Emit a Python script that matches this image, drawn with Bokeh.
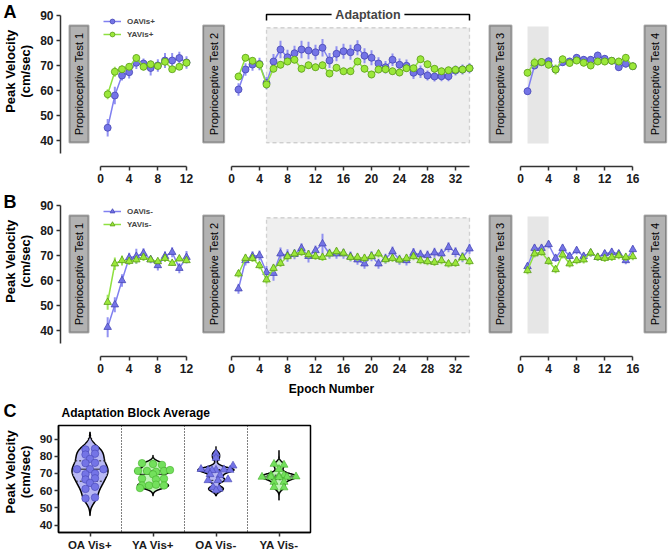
import numpy as np
from bokeh.plotting import figure
from bokeh.models import Range1d, FixedTicker, BoxAnnotation, Label, Legend, LegendItem, Span
from bokeh.layouts import column, row
from bokeh.embed import file_html
from bokeh.resources import INLINE

# ---------------- data ----------------
ep_pt1 = list(range(1, 13))
ep_adapt = list(range(1, 35))
ep_pt3 = list(range(1, 17))
adapt_block = (5, 34)
pt3_block = (1, 4)

# Panel A (Vis+)
oa_p_1 = [45.1, 58.0, 66.0, 67.3, 71.1, 70.8, 69.0, 70.0, 72.0, 72.0, 73.0, 71.2]
oa_p_1_e = [3.5, 3.5, 2.0, 2.5, 2.5, 2.0, 3.0, 2.5, 3.0, 3.0, 2.5, 2.5]
ya_p_1 = [58.5, 67.5, 68.5, 69.5, 73.0, 69.5, 70.5, 69.8, 71.5, 68.5, 69.5, 71.1]
ya_p_1_e = [2.0, 2.0, 1.5, 1.5, 1.5, 1.5, 1.0, 1.0, 1.5, 1.0, 1.0, 1.0]

oa_p_2 = [60.4, 68.4, 70.4, 70.6, 63.0, 71.6, 76.4, 73.3, 74.9, 76.4, 76.0, 75.3, 77.1, 72.0, 74.7, 75.7, 75.3,
          77.1, 73.9, 73.1, 70.8, 69.3, 72.3, 70.3, 69.9, 67.1, 67.5, 66.0, 65.6, 65.7, 65.7, 68.0, 68.4, 68.9]
oa_p_2_e = [2.5, 2.5, 2.5, 2.5, 2.5, 3.0, 3.5, 3.0, 3.0, 3.5, 3.5, 3.0, 3.5, 3.0, 3.0, 3.0, 3.0,
            3.0, 3.0, 3.0, 2.5, 2.5, 2.5, 2.5, 2.5, 2.5, 2.5, 2.0, 2.0, 2.0, 2.0, 2.0, 2.0, 2.0]
ya_p_2 = [65.6, 73.1, 71.9, 70.4, 62.4, 68.7, 70.3, 71.6, 72.3, 68.7, 70.1, 69.3, 70.1, 66.8, 69.1, 67.7, 67.7,
          71.6, 68.7, 66.4, 68.4, 68.5, 67.7, 67.2, 68.9, 68.9, 72.5, 70.5, 68.7, 67.7, 68.1, 68.3, 68.4, 68.9]
ya_p_2_e = [1.5] * 34

oa_p_3 = [59.7, 70.0, 71.3, 71.7, 68.4, 71.3, 71.6, 73.1, 72.3, 72.3, 74.0, 72.7, 71.9, 69.3, 70.7, 69.7]
oa_p_3_e = [1.5] * 16
ya_p_3 = [67.1, 71.1, 71.4, 70.3, 68.4, 72.5, 71.0, 72.0, 71.1, 70.0, 71.6, 71.6, 71.9, 71.6, 73.1, 69.7]
ya_p_3_e = [1.5, 2.0, 1.5, 1.5, 2.0, 1.5, 1.5, 1.5, 1.5, 1.5, 1.5, 1.5, 1.5, 1.5, 1.5, 1.5]

# Panel B (Vis-)
oa_m_1 = [41.3, 50.3, 60.0, 69.1, 69.7, 70.9, 68.4, 66.0, 69.7, 71.3, 64.9, 69.3]
oa_m_1_e = [4.0, 3.0, 2.5, 2.0, 3.0, 2.0, 1.5, 2.0, 2.0, 2.0, 2.0, 2.5]
ya_m_1 = [51.3, 66.7, 68.0, 67.7, 68.3, 69.3, 68.3, 67.6, 68.9, 66.9, 68.7, 68.0]
ya_m_1_e = [3.0, 2.5, 2.0, 1.5, 1.5, 1.5, 1.0, 1.0, 1.5, 1.0, 1.0, 1.0]

oa_m_2 = [56.7, 68.0, 69.7, 70.0, 63.3, 62.9, 70.7, 70.0, 70.5, 72.9, 69.7, 72.0, 74.7, 70.7, 70.7, 70.7, 69.6,
          68.3, 66.7, 69.7, 66.7, 68.7, 71.6, 68.3, 68.0, 71.0, 70.3, 70.0, 71.1, 70.7, 73.3, 71.3, 69.3, 72.7]
oa_m_2_e = [2.0, 2.0, 2.0, 2.0, 2.5, 3.0, 2.5, 2.5, 2.0, 2.0, 2.5, 2.0, 4.0, 2.0, 2.0, 2.0, 2.0,
            2.0, 2.0, 2.0, 2.0, 2.0, 2.0, 2.0, 2.0, 2.0, 2.0, 2.0, 2.0, 2.0, 2.0, 2.0, 2.0, 2.0]
ya_m_2 = [62.7, 68.9, 68.9, 66.0, 60.3, 64.9, 66.9, 69.6, 70.7, 71.3, 70.4, 69.7, 69.3, 70.7, 71.6, 71.0, 69.3,
          69.3, 68.9, 69.7, 70.7, 68.4, 68.9, 68.3, 68.9, 69.6, 68.0, 67.6, 67.3, 68.0, 66.7, 66.9, 69.2, 67.6]
ya_m_2_e = [1.5] * 34

oa_m_3 = [65.6, 72.9, 72.9, 74.4, 68.9, 72.9, 69.7, 72.0, 69.7, 71.0, 69.3, 70.7, 71.3, 70.7, 68.0, 72.4]
oa_m_3_e = [1.5] * 16
ya_m_3 = [64.0, 70.7, 71.3, 67.7, 64.4, 70.3, 66.7, 68.0, 68.3, 71.1, 69.3, 68.9, 69.3, 70.0, 69.3, 69.6]
ya_m_3_e = [1.5] * 16

# Panel C (adaptation block averages, individual participants)
groups_c = ["OA Vis+", "YA Vis+", "OA Vis-", "YA Vis-"]
c_oa_p = [84.0, 84.4, 81.0, 81.5, 78.5, 76.0, 76.2, 72.5, 72.5, 72.5, 69.6, 70.0, 66.5, 67.2, 64.5, 62.2, 61.0, 55.5, 56.0]
c_oa_p_dx = [-4.5, 5, -4.5, 5, 0, -4.5, 5, -13, 0, 13.5, -4.5, 5, -4.5, 5, 0, 5, -4.5, -4.5, 5]
c_ya_p = [76.0, 75.5, 75.0, 71.5, 71.5, 71.0, 71.5, 72.0, 69.5, 67.0, 66.5, 67.0, 63.0, 63.0, 63.5, 63.0, 61.5]
c_ya_p_dx = [-11, 0, 9, -15, -6, 3, 11, 17, 0, -11, 3, 11, -11, -4, 3, 11, -13]
c_oa_m = [81.5, 79.0, 74.5, 72.5, 72.0, 72.0, 72.3, 72.0, 71.8, 69.5, 69.0, 66.0, 66.0, 66.5, 62.0, 61.0, 60.2]
c_oa_m_dx = [0, 0, 17, -15, -8, 0, 8, 14, -4, -6, 4, -8, 2, 12, -3, 3, 0]
c_ya_m = [75.5, 75.0, 72.5, 69.0, 69.0, 68.5, 68.0, 68.0, 67.8, 68.0, 68.2, 65.0, 65.0, 62.0, 61.8]
c_ya_m_dx = [-5, 5, 0, -8, 5, 0, -17, -8, 0, 8, 17, -5, 5, -5, 5]
# violin outline extents (low, high)
c_extent = [(45.5, 94.0), (57.0, 80.5), (57.0, 85.5), (54.5, 83.5)]

# ---------------- style ----------------
FONT = "Liberation Sans"
PUR_LINE = "#8080f0"
PUR_FILL = "#7474e6"
PUR_EDGE = "#4646b4"
GRN_LINE = "#8fe040"
GRN_FILL = "#9be83a"
GRN_EDGE = "#5a9a1a"
BOX_FILL = "#b2b2b2"
TICK_FS = "12px"

ROW_H = 190
FRAME_H = 166
YR = Range1d(96 - FRAME_H / 2.5, 96)   # shared y range of the epoch panels (2.5 px per unit)


def text_fig(width, height):
    """Plain canvas (pixel coordinates, y downwards) that only holds text labels."""
    p = figure(width=width, height=height, x_range=Range1d(0, width), y_range=Range1d(height, 0),
               output_backend="svg", toolbar_location=None, min_border=0,
               min_border_left=0, min_border_right=0, min_border_top=0, min_border_bottom=0,
               x_axis_location=None, y_axis_location=None)
    p.outline_line_color = None
    p.grid.visible = False
    return p


def add_text(p, x, y, t, size, bold=True, align="left", angle=0.0):
    p.add_layout(Label(x=x, y=y, text=t, text_align=align, text_baseline="middle", angle=angle,
                       text_font=FONT, text_font_style="bold" if bold else "normal",
                       text_font_size=size, text_color="black"))


def style_axis(a, fs=TICK_FS):
    a.minor_tick_line_color = None
    a.major_tick_in = 0
    a.major_tick_out = 4
    a.axis_line_width = 1.5
    a.major_tick_line_width = 1.5
    a.axis_line_color = "#333333"
    a.major_tick_line_color = "#333333"
    a.major_label_text_font = FONT
    a.major_label_text_font_style = "bold"
    a.major_label_text_font_size = fs
    a.major_label_text_color = "#1a1a1a"
    a.major_label_standoff = 3


def seg_fig(width, x0_px, ppu, left, xmax, ticks, yaxis=False):
    frame_w = width - left
    xs = -(x0_px - left) / ppu
    p = figure(width=width, height=ROW_H, x_range=Range1d(xs, xs + frame_w / ppu), y_range=YR,
               output_backend="svg", toolbar_location=None,
               min_border_left=left, min_border_right=0, min_border_top=0,
               min_border_bottom=ROW_H - FRAME_H, y_axis_location="left" if yaxis else None)
    p.outline_line_color = None
    p.grid.visible = False
    ax = p.xaxis[0]
    ax.bounds = (0, xmax)
    ax.ticker = FixedTicker(ticks=ticks)
    style_axis(ax)
    if yaxis:
        ya = p.yaxis[0]
        ya.bounds = (35, 90)
        ya.ticker = FixedTicker(ticks=[40, 50, 60, 70, 80, 90])
        style_axis(ya)
    return p


def series(p, x, y, e, line_c, fill_c, edge_c, marker):
    y = np.array(y)
    e = np.array(e)
    p.segment(x0=x, y0=y - e, x1=x, y1=y + e, line_color=line_c, line_width=2, line_alpha=0.85)
    lr = p.line(x, y, line_color=line_c, line_width=1.5)
    sr = p.scatter(x, y, marker=marker, size=7 if marker == "circle" else 7.5,
                   fill_color=fill_c, line_color=edge_c, line_width=0.8)
    return lr, sr


def ptest_box(p, x0, x1, label):
    p.add_layout(BoxAnnotation(left=x0, right=x1, bottom=39.2, top=86.0, fill_color=BOX_FILL,
                               fill_alpha=1, line_color="black", line_width=2))
    p.add_layout(Label(x=(x0 + x1) / 2, y=(39.2 + 86.0) / 2, text=label, angle=np.pi / 2,
                       text_align="center", text_baseline="middle", text_font=FONT,
                       text_font_size="11px", text_color="black"))


def build_row(data, marker, names, letter):
    (o1, o1e, y1, y1e, o2, o2e, y2, y2e, o3, o3e, y3, y3e) = data
    f0 = text_fig(36, ROW_H)
    add_text(f0, 3, 13, letter, "18px")
    add_text(f0, 9.5, 81, "Peak Velocity", "13px", align="center", angle=np.pi / 2)
    add_text(f0, 25, 81, "(cm/sec)", "13px", align="center", angle=np.pi / 2)

    # segment figures: page x of data 0, px per unit
    f1 = seg_fig(159, 100 - 36, 86 / 12, 24, 12, [0, 4, 8, 12], yaxis=True)
    f2 = seg_fig(283, 231 - 195, 7.0, 0, 34, [0, 4, 8, 12, 16, 20, 24, 28, 32])
    f3 = seg_fig(190, 520 - 478, 7.02, 0, 16, [0, 4, 8, 12, 16])

    ptest_box(f1, -4.33, -1.67, "Proprioceptive Test 1")
    ptest_box(f2, -4.05, -1.05, "Proprioceptive Test 2")
    ptest_box(f3, -4.42, -1.28, "Proprioceptive Test 3")
    ptest_box(f3, 17.66, 20.75, "Proprioceptive Test 4")

    f2.add_layout(BoxAnnotation(left=adapt_block[0], right=adapt_block[1], bottom=39.1, top=85.1,
                                fill_color="#efefef", fill_alpha=1, line_color="#7a7a7a",
                                line_width=1.3, line_dash="4 3", level="underlay"))
    f3.add_layout(BoxAnnotation(left=pt3_block[0], right=pt3_block[1], bottom=38.8, top=85.6,
                                fill_color="#e6e6e6", fill_alpha=1, line_color=None, level="underlay"))

    lo, so = series(f1, ep_pt1, o1, o1e, PUR_LINE, PUR_FILL, PUR_EDGE, marker)
    lg, sg = series(f1, ep_pt1, y1, y1e, GRN_LINE, GRN_FILL, GRN_EDGE, marker)
    series(f2, ep_adapt, o2, o2e, PUR_LINE, PUR_FILL, PUR_EDGE, marker)
    series(f2, ep_adapt, y2, y2e, GRN_LINE, GRN_FILL, GRN_EDGE, marker)
    series(f3, ep_pt3, o3, o3e, PUR_LINE, PUR_FILL, PUR_EDGE, marker)
    series(f3, ep_pt3, y3, y3e, GRN_LINE, GRN_FILL, GRN_EDGE, marker)

    leg = Legend(items=[LegendItem(label=names[0], renderers=[lo, so]),
                        LegendItem(label=names[1], renderers=[lg, sg])],
                 location=(43, FRAME_H - 40), padding=0, margin=0, spacing=1,
                 glyph_width=18, glyph_height=12, label_height=12, label_standoff=6,
                 label_text_font=FONT, label_text_font_style="bold", label_text_font_size="8px",
                 border_line_color=None, background_fill_alpha=0)
    f1.add_layout(leg, "center")
    return row(f0, f1, f2, f3, spacing=0), f2


rowA, fA2 = build_row((oa_p_1, oa_p_1_e, ya_p_1, ya_p_1_e, oa_p_2, oa_p_2_e, ya_p_2, ya_p_2_e,
                       oa_p_3, oa_p_3_e, ya_p_3, ya_p_3_e), "circle", ["OAVis+", "YAVis+"], "A")
rowB, fB2 = build_row((oa_m_1, oa_m_1_e, ya_m_1, ya_m_1_e, oa_m_2, oa_m_2_e, ya_m_2, ya_m_2_e,
                       oa_m_3, oa_m_3_e, ya_m_3, ya_m_3_e), "triangle", ["OAVis-", "YAVis-"], "B")

# Adaptation bracket (panel A, middle)
yb = 90.4
fA2.line([adapt_block[0], adapt_block[0], 14.3], [88.0, yb, yb], line_color="black", line_width=1.5)
fA2.line([24.7, adapt_block[1], adapt_block[1]], [yb, yb, 88.0], line_color="black", line_width=1.5)
fA2.add_layout(Label(x=(adapt_block[0] + adapt_block[1]) / 2, y=yb, text="Adaptation", text_align="center",
                     text_baseline="middle", text_font=FONT, text_font_style="bold", text_font_size="12.5px"))

# strip between panel B and panel C: x-axis title, panel letter, panel C title
STRIP_H = 44
strip = text_fig(668, STRIP_H)
add_text(strip, 331, 8, "Epoch Number", "12px", align="center")
add_text(strip, 3, 30, "C", "18px")
add_text(strip, 61, 32, "Adaptation Block Average", "12px")

# ---------------- Panel C ----------------
C_H = 553 - 2 * ROW_H - STRIP_H
C_TOP, C_BOT = 1, 18
C_YR = (40 - 7.7 / 1.766, 90 + 14 / 1.766)
fc0 = text_fig(34, C_H)
add_text(fc0, 9.5, 56, "Peak Velocity", "13px", align="center", angle=np.pi / 2)
add_text(fc0, 25, 56, "(cm/sec)", "13px", align="center", angle=np.pi / 2)

pc = figure(width=278, height=C_H, x_range=Range1d(0.5, 4.5), y_range=Range1d(*C_YR),
            output_backend="svg", toolbar_location=None,
            min_border_left=24, min_border_right=2, min_border_top=C_TOP, min_border_bottom=C_BOT)
pc.grid.visible = False
pc.outline_line_color = "black"
pc.outline_line_width = 1.5
pc.xaxis.ticker = FixedTicker(ticks=[1, 2, 3, 4])
pc.xaxis.major_label_overrides = {i + 1: g for i, g in enumerate(groups_c)}
pc.yaxis.ticker = FixedTicker(ticks=[40, 50, 60, 70, 80, 90])
for a in [pc.xaxis[0], pc.yaxis[0]]:
    style_axis(a, "11.5px")
    a.axis_line_color = "black"
    a.major_label_standoff = 2

for s in [1.5, 2.5, 3.5]:
    pc.add_layout(Span(location=s, dimension="height", line_color="black", line_width=1, line_dash="1 2"))

PX_PER_CAT = 63.0
violins = [
    (1, c_oa_p, c_oa_p_dx, 3.4, "#b8b8f4", PUR_FILL, PUR_EDGE, "circle"),
    (2, c_ya_p, c_ya_p_dx, 1.5, "#c3f3bb", "#73e05c", "#45b02c", "circle"),
    (3, c_oa_m, c_oa_m_dx, 1.3, "#b8b8f4", PUR_FILL, PUR_EDGE, "triangle"),
    (4, c_ya_m, c_ya_m_dx, 1.6, "#c3f3bb", "#73e05c", "#45b02c", "triangle"),
]
HALF_MAX = 18.0 / PX_PER_CAT
for (cx, vals, dx, bw, vfill, pfill, pedge, mk), (lo_e, hi_e) in zip(violins, c_extent):
    v = np.array(vals)
    grid = np.linspace(lo_e, hi_e, 300)
    dens = np.exp(-0.5 * ((grid[:, None] - v[None, :]) / bw) ** 2).sum(axis=1)
    w = dens / dens.max() * HALF_MAX
    xs = np.concatenate([cx - w, (cx + w)[::-1]])
    ys = np.concatenate([grid, grid[::-1]])
    pc.patch(xs, ys, fill_color=vfill, line_color="black", line_width=1.5)
    q1, med, q3 = np.percentile(v, [25, 50, 75])
    for q, dash in [(q1, "2 2"), (med, "solid"), (q3, "2 2")]:
        wq = np.interp(q, grid, w)
        pc.line([cx - wq, cx + wq], [q, q], line_color="#222222", line_width=1, line_dash=dash)
    pc.scatter(cx + np.array(dx) / PX_PER_CAT, v, marker=mk, size=7.5 if mk == "circle" else 8,
               fill_color=pfill, line_color=pedge, line_width=0.6)

layout = column(rowA, rowB, strip, row(fc0, pc, spacing=0), spacing=0)
open("out.html", "w").write(file_html(layout, INLINE))
